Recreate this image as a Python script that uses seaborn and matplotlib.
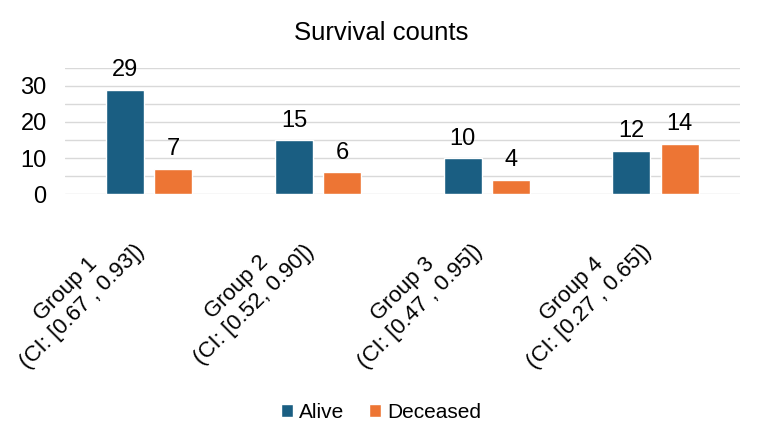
import pandas as pd
import matplotlib.pyplot as plt
import seaborn as sns

groups = ["Group 1\n(CI: [0.67 , 0.93])", "Group 2\n(CI: [0.52, 0.90])",
          "Group 3\n(CI: [0.47 , 0.95])", "Group 4\n(CI: [0.27 , 0.65])"]
alive = [29, 15, 10, 12]
deceased = [7, 6, 4, 14]
series = ["Alive", "Deceased"]
colors = ["#1a5e82", "#ed7534"]

df = pd.DataFrame({
    "Group": groups * 2,
    "Status": [series[0]] * len(groups) + [series[1]] * len(groups),
    "Count": alive + deceased,
})

sns.set_theme(style="white")
plt.rcParams["font.family"] = ["Liberation Sans", "DejaVu Sans"]
plt.rcParams["text.color"] = "black"

fig = plt.figure(figsize=(7.62, 4.41), dpi=100)
ax = fig.add_axes([0.085, 0.56, 0.886, 0.286])
# figure centre in axes coordinates (title and legend are centred on the figure)
xc = (0.5 - 0.085) / 0.886

sns.barplot(data=df, x="Group", y="Count", hue="Status", palette=colors,
            width=0.57, gap=0.21, saturation=1, ax=ax, legend=True)

for c in ax.containers:
    ax.bar_label(c, padding=6, fontsize=17, color="black")

ax.set_ylim(0, 35)
ax.set_yticks(range(0, 31, 10))
ax.set_yticks(range(0, 36, 5), minor=True)
ax.grid(axis="y", which="both", color="#d9d9d9", linewidth=1)
ax.set_axisbelow(True)
ax.set_xlim(-0.5, 3.5)
for s in ax.spines.values():
    s.set_visible(False)
ax.tick_params(axis="y", which="both", length=0, labelsize=17, pad=13,
               labelcolor="black")
ax.tick_params(axis="x", length=0, pad=44, labelcolor="black")
plt.setp(ax.get_xticklabels(), rotation=45, ha="right", va="bottom",
         rotation_mode="anchor", fontsize=16, multialignment="center")
ax.set_xlabel("")
ax.set_ylabel("")
ax.set_title("Survival counts", fontsize=18.5, pad=20, x=xc, color="black")

ax.legend(loc="center", bbox_to_anchor=(xc, -1.73), ncol=2, frameon=False,
          fontsize=15, handlelength=0.55, handleheight=0.55, columnspacing=1.2,
          handletextpad=0.3)

fig.savefig("out.png", dpi=100)
